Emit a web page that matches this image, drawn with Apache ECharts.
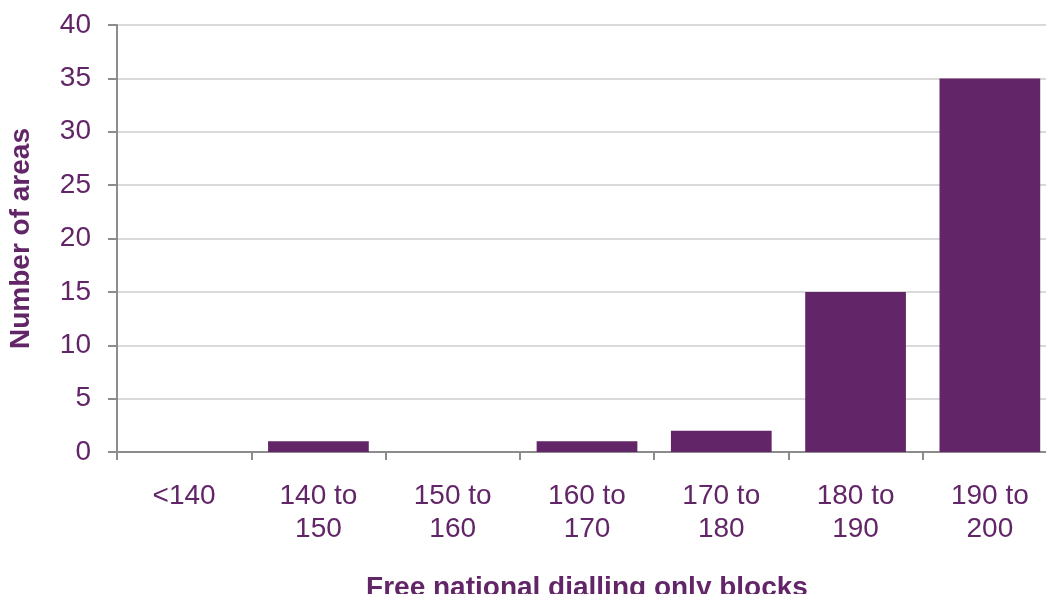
<!DOCTYPE html>
<html>
<head>
<meta charset="utf-8">
<script src="https://cdn.jsdelivr.net/npm/echarts@6/dist/echarts.min.js"></script>
<style>
  html, body { margin: 0; padding: 0; background: #ffffff; }
  #chart { width: 1046px; height: 594px; }
</style>
</head>
<body>
<div id="chart"></div>
<script>
// Histogram: number of areas by count of free national dialling only blocks
const categories = ['<140', '140 to\n150', '150 to\n160', '160 to\n170', '170 to\n180', '180 to\n190', '190 to\n200'];
const areaCounts = [0, 1, 0, 1, 2, 15, 35];
const yTicks = { min: 0, max: 40, interval: 5 };

const purple = '#622567';
const axisGray = '#8c8c8c';
const font = '"Liberation Sans", Arial, sans-serif';

const chart = echarts.init(document.getElementById('chart'), null, { renderer: 'canvas' });

chart.setOption({
  animation: false,
  backgroundColor: '#ffffff',
  textStyle: { fontFamily: font, color: purple },
  grid: {
    left: 117,
    top: 25,
    width: 940,
    height: 427,
    containLabel: false,
    outerBoundsMode: 'none'
  },
  xAxis: {
    type: 'category',
    data: categories,
    boundaryGap: true,
    name: 'Free national dialling only blocks',
    nameLocation: 'middle',
    nameGap: 122,
    nameTextStyle: { fontFamily: font, fontSize: 28, fontWeight: 'bold', color: purple },
    axisLine: { show: true, lineStyle: { color: axisGray, width: 2 } },
    axisTick: { show: true, alignWithLabel: false, length: 8, lineStyle: { color: axisGray, width: 2 } },
    axisLabel: {
      interval: 0,
      margin: 28,
      fontFamily: font,
      fontSize: 28,
      lineHeight: 33,
      color: purple,
      align: 'center'
    },
    splitLine: { show: false }
  },
  yAxis: {
    type: 'value',
    min: yTicks.min,
    max: yTicks.max,
    interval: yTicks.interval,
    name: 'Number of areas',
    nameLocation: 'middle',
    nameGap: 82,
    nameRotate: 90,
    nameTextStyle: { fontFamily: font, fontSize: 28, fontWeight: 'bold', color: purple },
    axisLine: { show: true, lineStyle: { color: axisGray, width: 2 } },
    axisTick: { show: true, length: 9, lineStyle: { color: axisGray, width: 2 } },
    axisLabel: { margin: 26, fontFamily: font, fontSize: 28, color: purple },
    splitLine: { show: true, lineStyle: { color: '#d9d9d9', width: 2 } }
  },
  series: [{
    type: 'bar',
    data: areaCounts,
    barCategoryGap: '25%',
    itemStyle: { color: purple },
    emphasis: { disabled: true }
  }]
});
</script>
</body>
</html>
